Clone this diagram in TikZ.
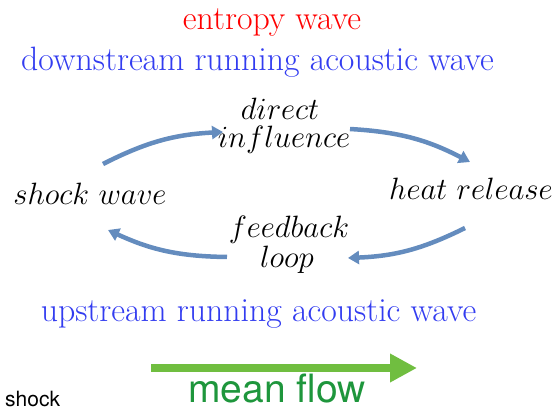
\documentclass[tikz,border=0pt]{standalone}
\usepackage{fontspec}
\setsansfont{TeX Gyre Heros}
\usetikzlibrary{arrows.meta}
\definecolor{ewred}{RGB}{255,0,0}
\definecolor{awblue}{RGB}{50,60,240}
\definecolor{loopblue}{RGB}{100,140,190}
\definecolor{flowgreen}{RGB}{112,190,64}
\definecolor{flowtext}{RGB}{30,150,60}
\tikzset{
  big/.style={anchor=base, inner sep=0pt, font=\fontsize{33.8}{35}\selectfont},
  mlabel/.style={anchor=base, inner sep=0pt, scale=1.24, font=\fontsize{24.88}{27}\selectfont},
  loopar/.style={draw=loopblue, line width=4.5pt, -{Triangle[length=11pt,width=13pt]}},
}
\begin{document}
\begin{tikzpicture}[x=1pt,y=-1pt]
\useasboundingbox (0,0) rectangle (557,411);
\node[big, text=ewred] (ent) at (272,30) {entropy wave};
\node[big, text=awblue] (down) at (257.5,71) {downstream running acoustic wave};
\node[mlabel] (dir) at (280,120) {$direct$};
\node[mlabel] (infl) at (284,148) {$influence$};
\node[mlabel] (shw) at (90,205) {$shock\ wave$};
\node[mlabel] (heat) at (471,200) {$heat\ release$};
\node[mlabel] (feed) at (289,238) {$feedback$};
\node[mlabel] (loop) at (287,268) {$loop$};
\node[big, text=awblue] (up) at (258.5,322) {upstream running acoustic wave};
\node[anchor=base, inner sep=0pt, text=flowtext, font=\sffamily\fontsize{39}{40}\selectfont] (mf) at (277,403) {mean flow};
\node[anchor=base west, inner sep=0pt, font=\sffamily\fontsize{21}{22}\selectfont] (sh) at (5,407) {shock};
\coordinate (a1s) at (103,164);
\coordinate (a1e) at (223,132);
\coordinate (a2s) at (350,129);
\coordinate (a2e) at (470,162);
\coordinate (a3s) at (465,228);
\coordinate (a3e) at (348,258);
\coordinate (a4s) at (227,257);
\coordinate (a4e) at (108,230);
\draw[loopar] (a1s) to[bend left=12] (a1e);
\draw[loopar] (a2s) to[bend left=12] (a2e);
\draw[loopar] (a3s) to[bend left=12] (a3e);
\draw[loopar] (a4s) to[bend left=12] (a4e);
\coordinate (gs) at (151,368);
\coordinate (ge) at (417,368);
\draw[draw=flowgreen, line width=7.5pt, -{Triangle[length=27pt,width=27pt]}] (gs) -- (ge);
\end{tikzpicture}
\end{document}
